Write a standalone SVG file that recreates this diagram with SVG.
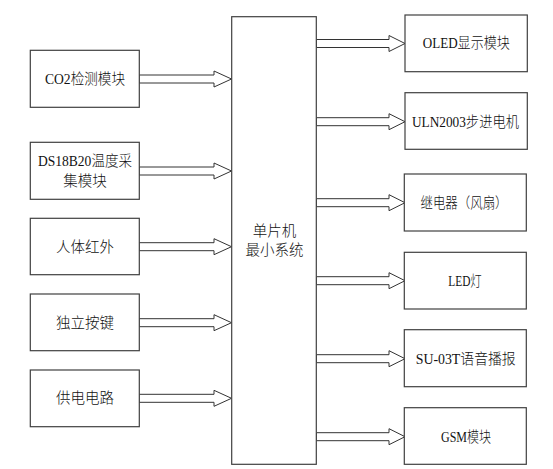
<svg xmlns="http://www.w3.org/2000/svg" width="553" height="469" viewBox="0 0 553 469">
<style>
.box{fill:#fff;stroke:#404040;stroke-width:1.2}
.arr{fill:#fff;stroke:#333;stroke-width:1}
text{font-family:"Liberation Serif","Noto Sans CJK SC",serif;font-weight:300;font-size:14.5px;fill:#111;text-anchor:middle;dominant-baseline:central}
</style>
<rect width="553" height="469" fill="#fff"/>
<g id="connectors">
<polygon class="arr" points="139,75 214,75 214,71 231.5,79 214,87 214,83 139,83"/>
<polygon class="arr" points="139,167 214,167 214,163 231.5,171 214,179 214,175 139,175"/>
<polygon class="arr" points="139,242.7 214,242.7 214,238.7 231.5,246.7 214,254.7 214,250.7 139,250.7"/>
<polygon class="arr" points="139,318.7 214,318.7 214,314.7 231.5,322.7 214,330.7 214,326.7 139,326.7"/>
<polygon class="arr" points="139,394.3 214,394.3 214,390.3 231.5,398.3 214,406.3 214,402.3 139,402.3"/>
<polygon class="arr" points="316.5,39.5 389,39.5 389,35.5 405,43.5 389,51.5 389,47.5 316.5,47.5"/>
<polygon class="arr" points="316.5,117.7 389,117.7 389,113.7 405,121.7 389,129.7 389,125.7 316.5,125.7"/>
<polygon class="arr" points="316.5,198.7 389,198.7 389,194.7 405,202.7 389,210.7 389,206.7 316.5,206.7"/>
<polygon class="arr" points="316.5,276.7 389,276.7 389,272.7 405,280.7 389,288.7 389,284.7 316.5,284.7"/>
<polygon class="arr" points="316.5,354.7 389,354.7 389,350.7 405,358.7 389,366.7 389,362.7 316.5,362.7"/>
<polygon class="arr" points="316.5,432.7 389,432.7 389,428.7 405,436.7 389,444.7 389,440.7 316.5,440.7"/>
</g>
<g id="mcu"><rect class="box" x="231.7" y="16.7" width="84.6" height="447.6"/><text x="274.5" y="231">单片机</text><text x="274.5" y="250">最小系统</text></g>
<g id="co2"><rect class="box" x="30.3" y="50.3" width="109" height="57"/><text x="85" y="79" textLength="80" lengthAdjust="spacingAndGlyphs">CO2检测模块</text></g>
<g id="ds18b20"><rect class="box" x="30.3" y="142.3" width="109" height="57"/><text x="85" y="161" textLength="94" lengthAdjust="spacingAndGlyphs">DS18B20温度采</text><text x="85" y="181">集模块</text></g>
<g id="pir"><rect class="box" x="30.3" y="218.3" width="109" height="56.4"/><text x="85" y="246.7">人体红外</text></g>
<g id="key"><rect class="box" x="30.3" y="294" width="109" height="56.7"/><text x="85" y="322.7">独立按键</text></g>
<g id="power"><rect class="box" x="30.3" y="370" width="109" height="56.7"/><text x="85" y="398.3">供电电路</text></g>
<g id="oled"><rect class="box" x="405" y="15" width="122.3" height="56.7"/><text x="466.3" y="43.3" textLength="87" lengthAdjust="spacingAndGlyphs">OLED显示模块</text></g>
<g id="uln"><rect class="box" x="405" y="92.7" width="122.3" height="56.6"/><text x="465.5" y="121.7" textLength="107" lengthAdjust="spacingAndGlyphs">ULN2003步进电机</text></g>
<g id="relay"><rect class="box" x="404.3" y="174" width="122" height="57"/><text x="464" y="202.5" textLength="87" lengthAdjust="spacingAndGlyphs">继电器（风扇）</text></g>
<g id="led"><rect class="box" x="404.3" y="252.3" width="122" height="56.7"/><text x="465" y="281" textLength="33.5" lengthAdjust="spacingAndGlyphs">LED灯</text></g>
<g id="su03t"><rect class="box" x="404.3" y="329.7" width="122" height="57"/><text x="465.7" y="358.5" textLength="100" lengthAdjust="spacingAndGlyphs">SU-03T语音播报</text></g>
<g id="gsm"><rect class="box" x="404.3" y="407.7" width="122" height="56.6"/><text x="466" y="436.7" textLength="50" lengthAdjust="spacingAndGlyphs">GSM模块</text></g>
</svg>
